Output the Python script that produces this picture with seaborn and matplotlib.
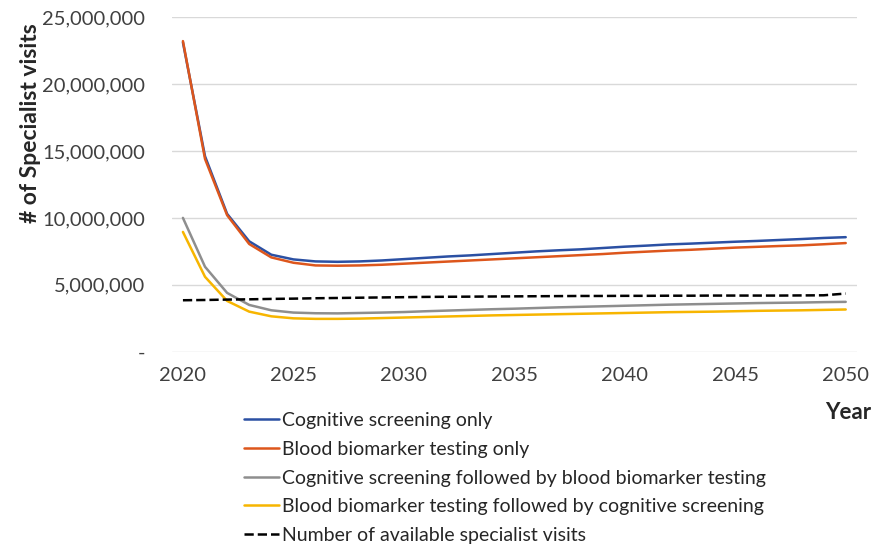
import matplotlib
matplotlib.use("Agg")
import matplotlib.pyplot as plt
from matplotlib.ticker import FuncFormatter
import seaborn as sns
import pandas as pd

# --- data (millions of visits) ---
years = list(range(2020, 2051))

cognitive_only = [23.1, 14.6, 10.3, 8.25, 7.25, 6.9, 6.75, 6.72, 6.75, 6.82, 6.92,
                  7.02, 7.12, 7.2, 7.3, 7.4, 7.5, 7.58, 7.65, 7.75, 7.85,
                  7.93, 8.02, 8.08, 8.15, 8.22, 8.28, 8.35, 8.42, 8.5, 8.56]
blood_only = [23.2, 14.4, 10.2, 8.05, 7.05, 6.65, 6.45, 6.43, 6.45, 6.5, 6.58,
              6.66, 6.74, 6.82, 6.9, 6.98, 7.06, 7.14, 7.22, 7.3, 7.4,
              7.48, 7.56, 7.62, 7.7, 7.78, 7.84, 7.9, 7.95, 8.03, 8.12]
cog_then_blood = [10.0, 6.35, 4.4, 3.5, 3.1, 2.93, 2.88, 2.87, 2.9, 2.93, 2.97,
                  3.03, 3.08, 3.13, 3.18, 3.22, 3.27, 3.32, 3.36, 3.4, 3.44,
                  3.48, 3.52, 3.55, 3.58, 3.61, 3.64, 3.66, 3.68, 3.71, 3.73]
blood_then_cog = [8.95, 5.6, 3.8, 3.0, 2.65, 2.5, 2.46, 2.46, 2.48, 2.52, 2.56,
                  2.6, 2.64, 2.68, 2.72, 2.75, 2.78, 2.81, 2.84, 2.87, 2.9,
                  2.93, 2.96, 2.98, 3.0, 3.03, 3.06, 3.08, 3.1, 3.13, 3.16]
available = [3.85, 3.87, 3.9, 3.92, 3.95, 3.97, 4.0, 4.02, 4.04, 4.06, 4.08,
             4.1, 4.11, 4.12, 4.13, 4.14, 4.15, 4.16, 4.17, 4.17, 4.18,
             4.18, 4.19, 4.19, 4.2, 4.2, 4.2, 4.2, 4.21, 4.22, 4.35]

series = {
    "Cognitive screening only": cognitive_only,
    "Blood biomarker testing only": blood_only,
    "Cognitive screening followed by blood biomarker testing": cog_then_blood,
    "Blood biomarker testing followed by cognitive screening": blood_then_cog,
    "Number of available specialist visits": available,
}
colors = ["#2B50A3", "#DD561C", "#8E8E8E", "#F7B500", "#000000"]
styles = ["-", "-", "-", "-", "--"]

sns.set_style("white")
plt.rcParams["font.family"] = ["Lato", "DejaVu Sans"]

fig = plt.figure(figsize=(8.86, 5.48), dpi=100)
ax = fig.add_axes([0.194, 0.358, 0.773, 0.611])

for (name, vals), c, ls in zip(series.items(), colors, styles):
    df = pd.DataFrame({"Year": years, "Visits": [v * 1e6 for v in vals]})
    sns.lineplot(data=df, x="Year", y="Visits", ax=ax, color=c, linestyle=ls,
                 linewidth=1.8, label=name)

ax.set_xlim(2019.5, 2050.5)
ax.set_ylim(0, 25e6)
ax.set_xticks(range(2020, 2051, 5))
ax.set_yticks([i * 5e6 for i in range(6)])
ax.yaxis.set_major_formatter(FuncFormatter(lambda v, p: "-" if v == 0 else f"{v:,.0f}"))
ax.grid(axis="y", color="#D9D9D9", linewidth=1)
ax.grid(axis="x", visible=False)
for s in ax.spines.values():
    s.set_visible(False)
ax.tick_params(axis="both", length=0, labelsize=14.5, colors="#404040")
ax.tick_params(axis="y", pad=19)
ax.tick_params(axis="x", pad=11)

ax.set_xlabel("")
ax.set_ylabel("")
fig.text(0.034, 0.775, "# of Specialist visits", fontsize=16.5, fontweight="bold",
         color="#262626", rotation=90, ha="center", va="center")
fig.text(0.957, 0.248, "Year", fontsize=16, fontweight="bold", color="#262626",
         ha="center", va="center")

ax.legend_.remove()
h, l = ax.get_legend_handles_labels()
fig.legend(h, l, loc="upper left", bbox_to_anchor=(0.267, 0.262), frameon=False,
           fontsize=14, handlelength=1.8, handletextpad=0.12, labelspacing=0.6,
           borderaxespad=0, labelcolor="#262626")

plt.savefig("out.png", dpi=100)
plt.close()
